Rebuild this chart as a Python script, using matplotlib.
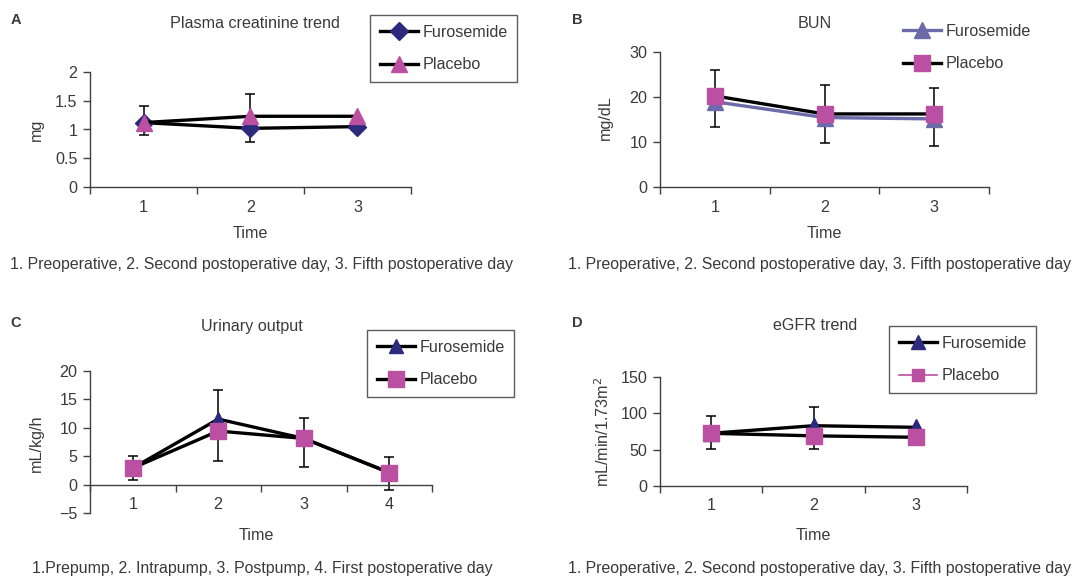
import matplotlib
matplotlib.use("Agg")
import matplotlib.pyplot as plt
from matplotlib.lines import Line2D
import numpy as np

W, H = 1079, 578
plt.rcParams['font.family'] = ['Liberation Sans', 'DejaVu Sans']

NAVY = "#2b2a7c"
PINK = "#bb4fa2"
SLATE = "#6c6aa9"
TXT = "#3a3a3a"
FS = 11.6
CAP_FS = 11.45

# A: plasma creatinine
a_time = [1, 2, 3]
a_furosemide = [1.12, 1.02, 1.05]
a_placebo = [1.12, 1.23, 1.23]
a_err_low = [0.90, 0.78, np.nan]
a_err_high = [1.41, 1.62, np.nan]

# B: BUN
b_time = [1, 2, 3]
b_furosemide = [18.9, 15.4, 15.1]
b_placebo = [20.2, 16.2, 16.2]
b_err_low = [13.2, 9.8, 9.2]
b_err_high = [25.9, 22.7, 21.9]

# C: urinary output
c_time = [1, 2, 3, 4]
c_furosemide = [2.9, 11.5, 8.1, 2.1]
c_placebo = [2.9, 9.4, 8.1, 2.1]
c_err_low = [0.8, 4.2, 3.0, -1.0]
c_err_high = [5.1, 16.6, 11.7, 4.8]

# D: eGFR
d_time = [1, 2, 3]
d_furosemide = [72.5, 83.0, 80.8]
d_placebo = [72.5, 69.0, 67.0]
d_err_low = [50.3, 50.3, np.nan]
d_err_high = [97.0, 109.0, np.nan]

captions_ops = "1. Preoperative, 2. Second postoperative day, 3. Fifth postoperative day"
caption_pump = "1.Prepump, 2. Intrapump, 3. Postpump, 4. First postoperative day"

fig = plt.figure(figsize=(W / 100, H / 100), dpi=100)


def px(x, y):
    return x / W, 1 - y / H


def make_axes(left, right, top, bottom):
    return fig.add_axes([left / W, 1 - bottom / H, (right - left) / W, (bottom - top) / H])


def style_axes(ax, n, ylim, yticks, zero_spine=False):
    ax.set_xlim(0.5, n + 0.5)
    ax.set_ylim(*ylim)
    ax.set_yticks(yticks)
    ax.set_yticklabels([str(t).replace('-', '\u2212') for t in yticks])
    ax.set_xticks(np.arange(0.5, n + 1, 1.0))
    ax.set_xticklabels([])
    ax.set_xticks(np.arange(1, n + 1), minor=True)
    ax.set_xticklabels([str(i) for i in range(1, n + 1)], minor=True)
    ax.tick_params(axis='x', which='major', direction='out', length=5, width=1, color='#404040')
    ax.tick_params(axis='x', which='minor', length=0, pad=9, labelsize=FS, labelcolor=TXT)
    ax.tick_params(axis='y', direction='out', length=5, width=1, color='#404040',
                   pad=4, labelsize=FS, labelcolor=TXT)
    for s in ['top', 'right']:
        ax.spines[s].set_visible(False)
    for s in ['left', 'bottom']:
        ax.spines[s].set_color('#404040')
        ax.spines[s].set_linewidth(1)
    if zero_spine:
        ax.spines['bottom'].set_position(('data', 0))
    ax.patch.set_alpha(0)


def draw_errors(ax, x, lo, hi):
    lo = np.array(lo, dtype=float)
    hi = np.array(hi, dtype=float)
    mid = (lo + hi) / 2
    ax.errorbar(x, mid, yerr=[mid - lo, hi - mid], fmt='none', ecolor='black',
                elinewidth=1.1, capsize=3.5, capthick=1.1, zorder=2)


def add_text(ax_id, title, tx, ty, letter_x, ylabel, ylx, yly, axis_cx, time_y, cap, cap_x, cap_y):
    fig.text(*px(letter_x, ty - 3), ax_id, fontsize=10.5, fontweight='bold', color=TXT,
             ha='center', va='center')
    fig.text(*px(tx, ty), title, fontsize=FS, color=TXT, ha='center', va='center')
    fig.text(*px(ylx, yly), ylabel, fontsize=FS, color=TXT, ha='center', va='center', rotation=90)
    fig.text(*px(axis_cx, time_y), "Time", fontsize=FS, color=TXT, ha='center', va='center')
    fig.text(*px(cap_x, cap_y), cap, fontsize=CAP_FS, color=TXT, ha='left', va='center')


def add_legend(ax, handles, labels, x, y, frame):
    leg = ax.legend(handles, labels, loc='upper left', bbox_to_anchor=px(x, y),
                    bbox_transform=fig.transFigure, frameon=frame, fancybox=False,
                    fontsize=FS, handlelength=2.4, handletextpad=0.25,
                    labelspacing=1.1, borderpad=0.6, borderaxespad=0)
    if frame:
        leg.get_frame().set_edgecolor('#333333')
        leg.get_frame().set_linewidth(1)
    for t in leg.get_texts():
        t.set_color(TXT)
    return leg


# ---- A ----
axA = make_axes(90, 411, 72, 187)
style_axes(axA, 3, (0, 2), [0, 0.5, 1, 1.5, 2])
axA.set_yticklabels(['0', '0.5', '1', '1.5', '2'])
draw_errors(axA, a_time, a_err_low, a_err_high)
lA1, = axA.plot(a_time, a_furosemide, color='black', lw=2.4, marker='D', ms=9,
                mfc=NAVY, mec=NAVY, zorder=3)
lA2, = axA.plot(a_time, a_placebo, color='black', lw=2.4, marker='^', ms=11,
                mfc=PINK, mec=PINK, zorder=4)
add_legend(axA, [lA1, lA2], ['Furosemide', 'Placebo'], 370, 15, True)
add_text('A', 'Plasma creatinine trend', 255, 23, 16, 'mg', 36, 130, 250, 233, captions_ops, 10, 264)

# ---- B ----
axB = make_axes(660, 989, 51.7, 187)
style_axes(axB, 3, (0, 30), [0, 10, 20, 30])
draw_errors(axB, b_time, b_err_low, b_err_high)
lB1, = axB.plot(b_time, b_furosemide, color=SLATE, lw=2.4, marker='^', ms=11,
                mfc=SLATE, mec=SLATE, zorder=3)
lB2, = axB.plot(b_time, b_placebo, color='black', lw=2.4, marker='s', ms=11,
                mfc=PINK, mec=PINK, zorder=4)
add_legend(axB, [lB1, lB2], ['Furosemide', 'Placebo'], 893, 14, False)
add_text('B', 'BUN', 815, 23, 577, 'mg/dL', 605, 118, 824, 233, captions_ops, 568, 264)

# ---- C ----
axC = make_axes(90, 432, 370.7, 513)
style_axes(axC, 4, (-5, 20), [-5, 0, 5, 10, 15, 20], zero_spine=True)
draw_errors(axC, c_time, c_err_low, c_err_high)
lC1, = axC.plot(c_time, c_furosemide, color='black', lw=2.4, marker='^', ms=10,
                mfc=NAVY, mec=NAVY, zorder=3)
lC2, = axC.plot(c_time, c_placebo, color='black', lw=2.4, marker='s', ms=12,
                mfc=PINK, mec=PINK, zorder=4)
add_legend(axC, [lC1, lC2], ['Furosemide', 'Placebo'], 367, 330, True)
add_text('C', 'Urinary output', 252, 326, 16, 'mL/kg/h', 36, 443, 256, 535, caption_pump, 32, 568)

# ---- D ----
axD = make_axes(660, 967, 377.3, 485.7)
style_axes(axD, 3, (0, 150), [0, 50, 100, 150])
draw_errors(axD, d_time, d_err_low, d_err_high)
axD.plot(d_time, d_furosemide, color='black', lw=2.4, marker='^', ms=11,
         mfc=NAVY, mec=NAVY, zorder=3)
axD.plot(d_time, d_placebo, color='black', lw=2.4, marker='s', ms=11,
         mfc=PINK, mec=PINK, zorder=4)
hD1 = Line2D([], [], color='black', lw=2.4, marker='^', ms=10, mfc=NAVY, mec=NAVY)
hD2 = Line2D([], [], color=PINK, lw=1.2, marker='s', ms=8, mfc=PINK, mec=PINK)
add_legend(axD, [hD1, hD2], ['Furosemide', 'Placebo'], 889, 326, True)
add_text('D', 'eGFR trend', 815, 326, 577, 'mL/min/1.73m$^2$', 603, 432, 813, 535, captions_ops, 568, 568)

fig.savefig('out.png', dpi=100)
